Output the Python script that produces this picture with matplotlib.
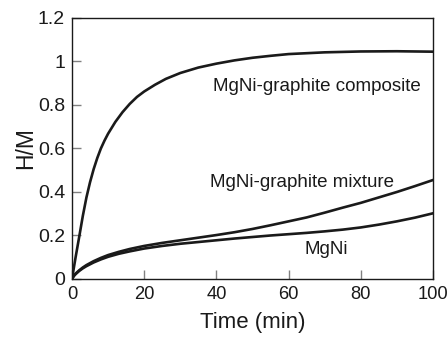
import matplotlib
matplotlib.use("Agg")
import matplotlib.pyplot as plt

# Values
time_composite = [0, 1, 2, 3, 4, 5, 6, 7, 8, 9, 10, 12, 14, 16, 18, 20, 23, 26, 30, 35,
                  40, 45, 50, 55, 60, 70, 80, 90, 100]
hm_composite = [0, 0.1, 0.194, 0.29, 0.375, 0.445, 0.505, 0.556, 0.6, 0.636, 0.668, 0.722,
                0.767, 0.805, 0.837, 0.862, 0.893, 0.92, 0.947, 0.972, 0.99, 1.005, 1.017,
                1.026, 1.034, 1.042, 1.046, 1.047, 1.045]

time_slow = [0, 0.5, 1, 2, 3, 4, 6, 8, 10, 13, 16, 20, 25, 30, 35, 40, 45, 50, 55, 60,
             65, 70, 75, 80, 85, 90, 95, 100]
hm_mixture = [0, 0.015, 0.025, 0.04, 0.053, 0.064, 0.082, 0.097, 0.11, 0.125, 0.138, 0.152,
              0.166, 0.178, 0.19, 0.202, 0.215, 0.23, 0.247, 0.265, 0.283, 0.305, 0.328,
              0.35, 0.375, 0.4, 0.427, 0.455]
hm_mgni = [0, 0.013, 0.022, 0.037, 0.049, 0.059, 0.076, 0.09, 0.102, 0.116, 0.127, 0.14,
           0.152, 0.162, 0.17, 0.178, 0.186, 0.193, 0.2, 0.206, 0.212, 0.219, 0.227, 0.237,
           0.25, 0.265, 0.282, 0.302]

x_ticks = [0, 20, 40, 60, 80, 100]
y_ticks = [0, 0.2, 0.4, 0.6, 0.8, 1.0, 1.2]
y_tick_labels = ["0", "0.2", "0.4", "0.6", "0.8", "1", "1.2"]

# curve labels: text, x, y (baseline)
curve_labels = [
    ("MgNi-graphite composite", 67.9, 0.864),
    ("MgNi-graphite mixture", 63.7, 0.424),
    ("MgNi", 70.4, 0.115),
]

plt.rcParams["font.family"] = ["Liberation Sans", "DejaVu Sans"]

ink = "#1a1a1a"

fig = plt.figure(figsize=(4.48, 3.39), dpi=100)
ax = fig.add_axes([0.1607, 0.177, 0.8058, 0.770])

ax.plot(time_composite, hm_composite, color=ink, lw=1.9, solid_joinstyle="round")
ax.plot(time_slow, hm_mixture, color=ink, lw=1.9, solid_joinstyle="round")
ax.plot(time_slow, hm_mgni, color=ink, lw=1.9, solid_joinstyle="round")

for text, x, y in curve_labels:
    ax.text(x, y, text, ha="center", va="baseline", fontsize=13.5, color=ink)

ax.set_xlim(0, 100)
ax.set_ylim(0, 1.2)
ax.set_xticks(x_ticks)
ax.set_xticklabels([str(v) for v in x_ticks])
ax.set_yticks(y_ticks)
ax.set_yticklabels(y_tick_labels)

ax.tick_params(direction="in", length=6.5, width=1.0, color="#808080",
               labelcolor=ink, pad=5)
ax.tick_params(axis="x", labelsize=13.2)
ax.tick_params(axis="y", labelsize=14)

for side in ["left", "right", "top", "bottom"]:
    ax.spines[side].set_linewidth(1.0)
    ax.spines[side].set_color(ink)

ax.set_xlabel("Time (min)", fontsize=16, color=ink)
ax.set_ylabel("H/M", fontsize=16.5, color=ink)
ax.xaxis.set_label_coords(0.501, -0.125)
ax.yaxis.set_label_coords(-0.097, 0.5)

fig.savefig("out.png", dpi=100)
